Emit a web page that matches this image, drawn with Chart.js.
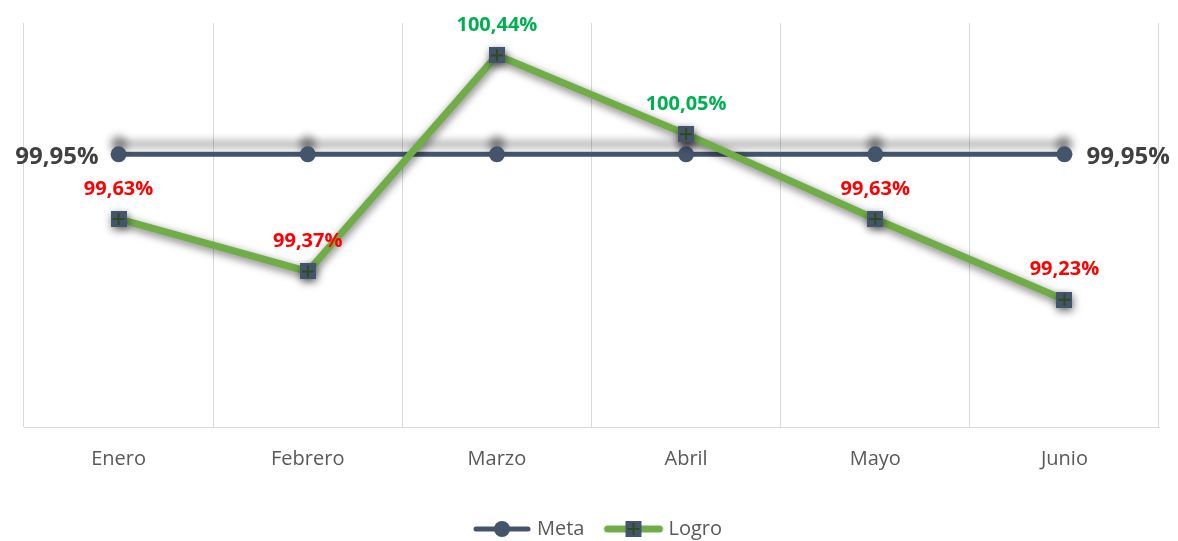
<!DOCTYPE html>
<html>
<head>
<meta charset="utf-8">
<script src="https://cdn.jsdelivr.net/npm/chart.js@4.4.0/dist/chart.umd.min.js"></script>
<style>
  html, body { margin: 0; padding: 0; background: #fff; }
  #wrap { width: 1178px; height: 541px; position: relative; }
</style>
</head>
<body>
<div id="wrap"><canvas id="chart" width="1178" height="541"></canvas></div>
<script>
const months = ['Enero', 'Febrero', 'Marzo', 'Abril', 'Mayo', 'Junio']
const meta = [99.95, 99.95, 99.95, 99.95, 99.95, 99.95]
const logro = [99.63, 99.37, 100.44, 100.05, 99.63, 99.23]
const yMin = 98.6
const yMax = 100.6

const slate = '#44546A'
const green = '#70AD47'
const fontFamily = "'Open Sans', 'DejaVu Sans', sans-serif"

// --- marker images ---
function squareMarker(size) {
  const c = document.createElement('canvas')
  c.width = size; c.height = size
  const g = c.getContext('2d')
  g.fillStyle = slate
  g.fillRect(0, 0, size, size)
  g.strokeStyle = '#2E4A1E'
  g.lineWidth = 2
  g.beginPath()
  g.moveTo(size / 2, 2); g.lineTo(size / 2, size - 2)
  g.moveTo(2, size / 2); g.lineTo(size - 2, size / 2)
  g.stroke()
  return c
}

// legend icon: line with its marker in the middle
function legendIcon(kind) {
  const w = 62, h = 18
  const c = document.createElement('canvas')
  c.width = w; c.height = h
  const g = c.getContext('2d')
  g.lineCap = 'round'
  if (kind === 'meta') {
    g.strokeStyle = slate; g.lineWidth = 5
    g.beginPath(); g.moveTo(5, h / 2); g.lineTo(w - 5, h / 2); g.stroke()
    g.fillStyle = slate
    g.beginPath(); g.arc(w / 2, h / 2, 8, 0, Math.PI * 2); g.fill()
  } else {
    g.strokeStyle = green; g.lineWidth = 7
    g.beginPath(); g.moveTo(5, h / 2); g.lineTo(w - 5, h / 2); g.stroke()
    g.drawImage(squareMarker(16), w / 2 - 8, h / 2 - 8)
  }
  return c
}

const logroMarker = squareMarker(16)

// --- shadows per dataset ---
const shadowPlugin = {
  id: 'shadows',
  beforeDatasetDraw(chart, args) {
    const s = chart.data.datasets[args.index].shadow
    if (!s) return
    const ctx = chart.ctx
    ctx.save()
    ctx.shadowColor = s.color
    ctx.shadowBlur = s.blur
    ctx.shadowOffsetX = s.x
    ctx.shadowOffsetY = s.y
  },
  afterDatasetDraw(chart, args) {
    if (chart.data.datasets[args.index].shadow) chart.ctx.restore()
  }
}

// legend sits a little right of centre in the original
const legendNudge = {
  id: 'legendNudge',
  afterLayout(chart) {
    if (chart.legend) { chart.legend.left += 8; chart.legend.right += 8 }
  }
}

// --- value labels ---
function fmt(v) { return v.toFixed(2).replace('.', ',') + '%' }

const labelPlugin = {
  id: 'valueLabels',
  afterDatasetsDraw(chart) {
    const ctx = chart.ctx
    ctx.save()
    // Meta labels only at both ends
    const m = chart.getDatasetMeta(0).data
    ctx.font = 'bold 24px ' + fontFamily
    ctx.fillStyle = '#404040'
    ctx.textBaseline = 'middle'
    ctx.textAlign = 'right'
    ctx.fillText(fmt(meta[0]), m[0].x - 20, m[0].y + 3)
    ctx.textAlign = 'left'
    ctx.fillText(fmt(meta[meta.length - 1]), m[m.length - 1].x + 22, m[m.length - 1].y + 3)
    // Logro labels above the points, green when the goal is met
    const l = chart.getDatasetMeta(1).data
    ctx.font = 'bold 20px ' + fontFamily
    ctx.textAlign = 'center'
    l.forEach((p, i) => {
      ctx.fillStyle = logro[i] >= meta[i] ? '#00B050' : '#FF0000'
      ctx.fillText(fmt(logro[i]), p.x, p.y - 30)
    })
    ctx.restore()
  }
}

new Chart(document.getElementById('chart').getContext('2d'), {
  type: 'line',
  data: {
    labels: months,
    datasets: [
      {
        label: 'Meta', data: meta, order: 2,
        borderColor: slate, borderWidth: 5, tension: 0,
        pointRadius: 8, pointHoverRadius: 8, pointBackgroundColor: slate, pointBorderWidth: 0,
        shadow: { color: 'rgba(0,0,0,0.45)', blur: 8, x: 0, y: -10 }
      },
      {
        label: 'Logro', data: logro, order: 1,
        borderColor: green, borderWidth: 7, tension: 0,
        pointStyle: logroMarker, pointRadius: 8, pointHoverRadius: 8,
        shadow: { color: 'rgba(0,0,0,0.55)', blur: 9, x: 1, y: 3 }
      }
    ]
  },
  options: {
    responsive: false, animation: false,
    layout: { padding: { left: 24, right: 19, top: 23, bottom: -8 } },
    scales: {
      x: {
        offset: true,
        grid: { offset: true, color: '#D9D9D9', lineWidth: 1, drawTicks: false },
        border: { display: true, color: '#D9D9D9', width: 1 },
        ticks: { color: '#595959', font: { family: fontFamily, size: 20 }, padding: 20 },
        afterFit(scale) { scale.height += 4 }
      },
      y: { display: false, min: yMin, max: yMax }
    },
    plugins: {
      tooltip: { enabled: false },
      legend: {
        position: 'bottom',
        labels: {
          usePointStyle: true, pointStyleWidth: 50, padding: 24,
          color: '#595959', font: { family: fontFamily, size: 20 },
          sort: (a, b) => a.datasetIndex - b.datasetIndex,
          generateLabels(chart) {
            return chart.data.datasets.map((ds, i) => ({
              text: ds.label, datasetIndex: i, fontColor: '#595959',
              pointStyle: legendIcon(i === 0 ? 'meta' : 'logro'),
              fillStyle: 'transparent', strokeStyle: 'transparent', lineWidth: 0, hidden: false
            }))
          }
        }
      }
    }
  },
  plugins: [shadowPlugin, labelPlugin, legendNudge]
})
</script>
</body>
</html>
